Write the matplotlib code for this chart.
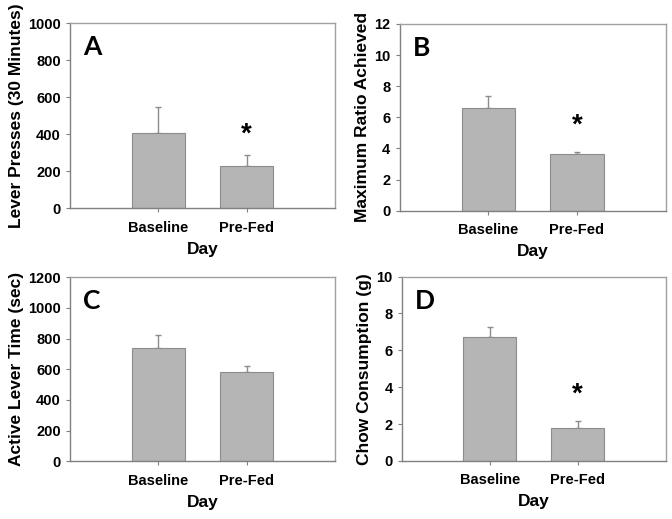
import matplotlib
matplotlib.use("Agg")
import matplotlib.pyplot as plt

categories = ["Baseline", "Pre-Fed"]
lever_presses = [408, 226]
lever_presses_err = [141, 63]
max_ratio = [6.62, 3.62]
max_ratio_err = [0.75, 0.17]
active_time = [738, 584]
active_time_err = [85, 38]
chow = [6.74, 1.77]
chow_err = [0.55, 0.42]

panels = [
    dict(letter="A", vals=lever_presses, err=lever_presses_err, ylim=(0, 1000), yticks=[0, 200, 400, 600, 800, 1000],
         ylabel="Lever Presses (30 Minutes)", star=[None, 398], pos=[0.104, 0.599, 0.3945, 0.356]),
    dict(letter="B", vals=max_ratio, err=max_ratio_err, ylim=(0, 12), yticks=[0, 2, 4, 6, 8, 10, 12],
         ylabel="Maximum Ratio Achieved", star=[None, 5.45], pos=[0.5945, 0.594, 0.396, 0.360]),
    dict(letter="C", vals=active_time, err=active_time_err, ylim=(0, 1200), yticks=[0, 200, 400, 600, 800, 1000, 1200],
         ylabel="Active Lever Time (sec)", star=[None, None], pos=[0.104, 0.111, 0.3945, 0.355]),
    dict(letter="D", vals=chow, err=chow_err, ylim=(0, 10), yticks=[0, 2, 4, 6, 8, 10],
         ylabel="Chow Consumption (g)", star=[None, 3.62], pos=[0.598, 0.112, 0.3925, 0.355]),
]

plt.rcParams['font.family'] = ['Liberation Sans', 'DejaVu Sans']
fig = plt.figure(figsize=(6.72, 5.19), dpi=100)
frame_col = "#a0a0a0"
for p in panels:
    ax = fig.add_axes(p["pos"])
    x = [1, 2]
    ax.bar(x, p["vals"], width=0.6, color="#b5b5b5", edgecolor="#8c8c8c", linewidth=0.8, zorder=2)
    ax.errorbar(x, p["vals"], yerr=[[0, 0], p["err"]], fmt="none", ecolor="#8c8c8c",
                elinewidth=1.0, capsize=2.5, capthick=1.0, zorder=1)
    ax.set_xlim(0, 3)
    ax.set_ylim(*p["ylim"])
    ax.set_yticks(p["yticks"])
    ax.set_xticks(x)
    ax.set_xticklabels(categories)
    for s in ax.spines.values():
        s.set_color(frame_col)
        s.set_linewidth(1.0)
    ax.spines["bottom"].set_color("#808080")
    ax.spines["left"].set_color("#808080")
    ax.tick_params(axis="both", colors="#808080", labelcolor="black", labelsize=10.5, length=3, width=0.8)
    ax.tick_params(axis="x", pad=6)
    for lab in ax.get_xticklabels() + ax.get_yticklabels():
        lab.set_fontweight("bold")
    ax.set_xlabel("Day", fontsize=12.5, fontweight="bold", labelpad=5)
    ax.set_ylabel(p["ylabel"], fontsize=12.5, fontweight="bold", labelpad=3)
    ax.text(0.05, 0.87, p["letter"], transform=ax.transAxes, fontsize=19, fontweight="bold",
            family=["Lato", "Liberation Sans"], va="center", ha="left")
    for xi, sv in zip(x, p["star"]):
        if sv is not None:
            ax.text(xi, sv, "*", ha="center", va="center", fontsize=20, fontweight="bold")

fig.savefig("out.png", dpi=100)
